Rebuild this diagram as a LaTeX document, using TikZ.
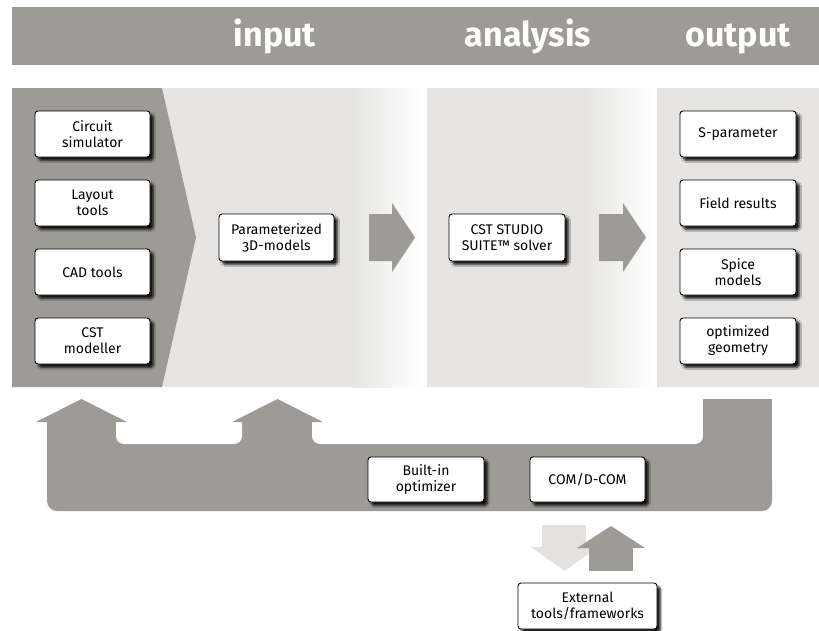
\documentclass[tikz,border=0pt]{standalone}
\usepackage{fontspec}
\setmainfont{Fira Sans}[Numbers=OldStyle]
\usetikzlibrary{shadows.blur}
\definecolor{dg}{HTML}{9E9B96}
\definecolor{lg}{HTML}{E6E5E3}
\definecolor{la}{HTML}{E3E2E0}
\begin{document}
\begin{tikzpicture}[x=1pt,y=-1pt,
  tool/.style={draw=black, line width=0.9pt, fill=white, rounded corners=3pt,
    minimum width=115pt, minimum height=46pt, align=center, inner sep=1pt,
    font=\fontsize{14}{16}\selectfont,
    blur shadow={shadow xshift=3.5pt, shadow yshift=-3.5pt, shadow blur steps=6, shadow opacity=90}},
  headtxt/.style={text=white, font=\bfseries\fontsize{34}{36}\selectfont, anchor=base, inner sep=0pt}]
\useasboundingbox (0,0) rectangle (819,630);
% header band
\fill[dg] (12,7) rectangle (819,65);
\node[headtxt] (hin) at (275,46) {input};
\node[headtxt] (han) at (528,46) {analysis};
\node[headtxt] (hout) at (738,46) {output};
% panels
\fill[lg] (12,88) rectangle (352,387);
\shade[left color=lg, right color=white] (351.5,88) rectangle (420,387);
\fill[lg] (427,88) rectangle (585,387);
\shade[left color=lg, right color=white] (584.5,88) rectangle (652,387);
\fill[lg] (657,88) rectangle (819,387);
% chevron
\fill[dg] (12,88) -- (162,88) -- (196,237.5) -- (162,387) -- (12,387) -- cycle;
% flow arrows
\fill[dg] (369,214) -- (392,214) -- (392,203) -- (415,237.5) -- (392,272) -- (392,261) -- (369,261) -- cycle;
\fill[dg] (599,214) -- (623,214) -- (623,203) -- (646,237.5) -- (623,272) -- (623,261) -- (599,261) -- cycle;
% feedback loop
\fill[dg] (47,422) rectangle (772,490);
\fill[dg, rounded corners=10pt] (47,470) rectangle (772,511);
\fill[white, rounded corners=8pt] (116,395) rectangle (242,444);
\fill[white, rounded corners=8pt] (312,395) rectangle (703,444);
\fill[dg] (703,399) rectangle (772,460);
\fill[dg] (36,422) -- (81.5,399) -- (127,422) -- cycle;
\fill[dg] (232,422) -- (277.5,399) -- (323,422) -- cycle;
% exchange arrows
\fill[la] (542,525) rectangle (586,547.5);
\fill[la] (531,547) -- (598,547) -- (564.5,571) -- cycle;
\fill[dg] (589,547.5) rectangle (633,571);
\fill[dg] (577,548) -- (645,548) -- (611,526) -- cycle;
% boxes
\node[tool] (circ) at (92.5,134) {Circuit\\simulator};
\node[tool] (lay) at (92.5,203) {Layout\\tools};
\node[tool] (cad) at (92.5,272) {CAD tools};
\node[tool] (csm) at (92.5,341) {CST\\modeller};
\node[tool, minimum height=47pt] (par) at (276.5,237.5) {Parameterized\\3D-models};
\node[tool, minimum width=116pt, minimum height=47pt] (solver) at (507,237.5) {CST STUDIO\\SUITE™ solver};
\node[tool, minimum width=116pt] (spar) at (738,134) {S-parameter};
\node[tool, minimum width=116pt] (field) at (738,203) {Field results};
\node[tool, minimum width=116pt] (spice) at (738,272) {Spice\\models};
\node[tool, minimum width=116pt] (geom) at (738,341) {optimized\\geometry};
\node[tool, minimum width=116pt, minimum height=45pt] (opt) at (426,479.5) {Built-in\\optimizer};
\node[tool, minimum height=45pt] (com) at (587.5,479.5) {COM/D-COM};
\node[tool, minimum width=139pt] (ext) at (587.5,606) {External\\tools/frameworks};
\end{tikzpicture}
\end{document}
